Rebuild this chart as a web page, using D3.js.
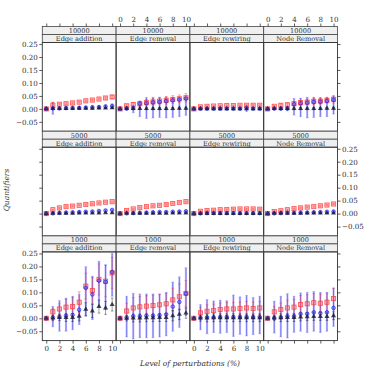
<!DOCTYPE html>
<html lang="en">
<head>
<meta charset="UTF-8">
<script src="https://cdn.jsdelivr.net/npm/d3@7"></script>
<title>Quantifiers vs perturbation</title>
<style>
  body { margin: 0; background: #fff; }
  svg { display: block; }
</style>
</head>
<body>
<svg width="374" height="374"></svg>
<script>
const sizes = ["10000", "5000", "1000"];
const types = ["Edge addition", "Edge removal", "Edge rewiring", "Node Removal"];
const levels = [0, 1, 2, 3, 4, 5, 6, 7, 8, 9, 10];
const xTicks = [0, 2, 4, 6, 8, 10];
const yTicks = [-0.05, 0, 0.05, 0.10, 0.15, 0.20, 0.25];

// one inner array per panel, row by row (10000, 5000, 1000), columns as in types
const redMean = [
  [0, .014, .018, .020, .023, .026, .031, .034, .038, .042, .046],
  [0, .012, .017, .020, .024, .027, .030, .033, .036, .039, .043],
  [0, .008, .010, .011, .012, .013, .013, .014, .014, .014, .014],
  [0, .010, .014, .016, .020, .024, .026, .029, .030, .033, .037],
  [0, .015, .022, .027, .029, .032, .035, .038, .041, .044, .046],
  [0, .012, .018, .023, .027, .030, .032, .035, .039, .043, .046],
  [0, .009, .012, .013, .015, .016, .017, .018, .018, .018, .017],
  [0, .008, .011, .015, .019, .022, .025, .027, .030, .033, .037],
  [0, .025, .036, .043, .045, .062, .124, .107, .150, .143, .175],
  [0, .028, .040, .044, .047, .049, .052, .056, .071, .083, .096],
  [0, .021, .027, .030, .034, .036, .036, .038, .040, .038, .040],
  [0, .025, .034, .040, .043, .053, .056, .060, .058, .062, .076]
];
const redErr = [
  [0, .012, .003, .003, .003, .003, .003, .003, .003, .004, .006],
  [0, .004, .008, .010, .012, .013, .014, .015, .015, .015, .016],
  [0, .002, .002, .002, .002, .002, .002, .002, .002, .002, .002],
  [0, .003, .005, .006, .008, .010, .012, .012, .012, .012, .014],
  [0, .002, .002, .002, .002, .002, .002, .002, .002, .002, .002],
  [0, .002, .002, .002, .002, .002, .002, .002, .002, .002, .002],
  [0, .002, .002, .002, .002, .002, .002, .002, .002, .002, .002],
  [0, .002, .002, .002, .002, .002, .002, .002, .002, .002, .002],
  [0, .012, .020, .030, .036, .040, .050, .050, .060, .060, .060],
  [0, .030, .040, .040, .040, .040, .040, .040, .045, .050, .050],
  [0, .020, .025, .025, .025, .025, .025, .025, .025, .025, .025],
  [0, .020, .025, .030, .030, .035, .035, .035, .035, .035, .040]
];
const blueMean = [
  [0, .002, .002, .003, .004, .004, .005, .006, .007, .009, .011],
  [0, .002, .003, .020, .022, .025, .027, .030, .033, .036, .040],
  [0, .001, .001, .001, .001, .001, .001, .001, .003, .001, .001],
  [0, .001, .001, .002, .018, .022, .024, .027, .028, .031, .035],
  [0, .001, .003, .004, .005, .006, .007, .008, .010, .012, .014],
  [0, .001, .002, .003, .004, .005, .006, .006, .007, .008, .009],
  [0, .001, .002, .002, .002, .002, .002, .002, .002, .002, .002],
  [0, .001, .002, .003, .003, .004, .004, .005, .006, .007, .008],
  [0, .003, .006, .010, .013, .033, .117, .092, .145, .140, .178],
  [0, .003, .008, .008, .010, .010, .012, .015, .045, .063, .095],
  [0, .003, .004, .004, .005, .005, .005, .005, .005, .005, .005],
  [0, .002, .004, .008, .008, .017, .017, .023, .020, .023, .040]
];
const blueLo = [
  [0, -.021, -.002, -.002, -.001, -.001, 0, 0, .001, .002, .003],
  [0, -.006, -.015, -.030, -.037, -.035, -.033, -.035, -.033, -.030, -.025],
  [0, -.003, -.003, -.003, -.003, -.003, -.003, -.003, -.010, -.003, -.003],
  [0, -.003, -.005, -.008, -.024, -.030, -.035, -.033, -.030, -.030, -.020],
  [0, -.002, 0, .001, .002, .003, .004, .005, .007, .009, .010],
  [0, -.002, -.001, 0, .001, .002, .003, .003, .004, .005, .006],
  [0, -.002, -.001, -.001, -.001, -.001, -.001, -.001, -.001, -.001, -.001],
  [0, -.002, -.001, 0, 0, .001, .001, .002, .003, .004, .005],
  [0, -.033, -.050, -.050, -.044, -.024, .008, -.005, .046, .034, .085],
  [0, -.072, -.080, -.075, -.075, -.075, -.072, -.068, -.050, -.035, .010],
  [0, -.044, -.060, -.055, -.058, -.055, -.070, -.062, -.068, -.063, -.060],
  [0, -.057, -.072, -.076, -.054, -.050, -.055, -.050, -.055, -.050, -.031]
];
const blueHi = [
  [0, .025, .006, .007, .008, .009, .010, .012, .013, .016, .020],
  [0, .008, .015, .030, .044, .045, .045, .046, .045, .044, .045],
  [0, .004, .004, .004, .004, .004, .004, .004, .014, .004, .004],
  [0, .004, .007, .010, .040, .042, .045, .045, .044, .044, .050],
  [0, .004, .006, .007, .008, .009, .010, .011, .013, .015, .018],
  [0, .004, .005, .006, .007, .008, .009, .009, .010, .011, .012],
  [0, .004, .005, .005, .005, .005, .005, .005, .005, .005, .005],
  [0, .004, .005, .006, .006, .007, .007, .008, .009, .010, .011],
  [0, .046, .068, .078, .085, .092, .199, .162, .220, .207, .250],
  [0, .085, .096, .094, .094, .094, .094, .100, .140, .160, .195],
  [0, .053, .072, .067, .070, .068, .090, .083, .088, .080, .085],
  [0, .066, .085, .095, .085, .098, .100, .103, .100, .100, .117]
];
const blackMean = [
  [0, .001, .001, .001, .001, .002, .002, .002, .003, .003, .004],
  [0, .001, .001, .001, .001, .001, .001, .001, .001, .002, .002],
  [0, 0, 0, 0, 0, 0, 0, 0, 0, 0, 0],
  [0, .001, .001, .001, .001, .001, .001, .001, .001, .002, .002],
  [0, .001, .001, .001, .001, .002, .002, .002, .002, .003, .003],
  [0, .001, .001, .001, .001, .001, .001, .001, .002, .002, .002],
  [0, 0, 0, 0, 0, 0, 0, 0, 0, 0, 0],
  [0, .001, .001, .001, .001, .001, .002, .002, .002, .002, .002],
  [0, .001, .003, .003, .003, .008, .035, .028, .045, .040, .053],
  [0, 0, .001, .001, .002, .002, .003, .003, .010, .015, .020],
  [0, .001, .001, .002, .002, .002, .002, .002, .002, .002, .002],
  [0, .001, .002, .003, .003, .005, .006, .007, .007, .007, .010]
];
const blackErr = [
  [0, .002, .002, .002, .002, .002, .002, .002, .002, .002, .003],
  [0, .002, .003, .003, .004, .004, .004, .004, .004, .004, .004],
  [0, .002, .002, .002, .002, .002, .002, .002, .002, .002, .002],
  [0, .002, .003, .003, .004, .004, .004, .004, .004, .004, .004],
  [0, .001, .001, .001, .001, .001, .001, .001, .001, .001, .001],
  [0, .001, .001, .001, .001, .001, .001, .001, .001, .001, .001],
  [0, .001, .001, .001, .001, .001, .001, .001, .001, .001, .001],
  [0, .001, .001, .001, .001, .001, .001, .001, .001, .001, .001],
  [0, .010, .012, .015, .015, .018, .025, .025, .025, .025, .025],
  [0, .010, .015, .015, .015, .015, .015, .015, .020, .020, .020],
  [0, .012, .015, .015, .015, .015, .015, .015, .015, .015, .015],
  [0, .010, .015, .015, .015, .015, .015, .015, .015, .015, .015]
];

const font = "'DejaVu Serif', serif";
const left = 42.3, panelW = 73.8, top0 = 26.5, stripH = 8, plotH = 88.7;
const blockH = 2 * stripH + plotH;

const x = d3.scaleLinear().domain([-0.6, 10.6]).range([0, panelW]);
const y = d3.scaleLinear().domain([-0.086, 0.256]).range([plotH, 0]);
const fmt = d3.format(".2f");

const svg = d3.select("svg");

// error bar helper
function bars(g, lo, hi, color, width, cap) {
  levels.forEach((lv, k) => {
    if (hi[k] - lo[k] <= 0) return;
    g.append("line")
      .attr("x1", x(lv)).attr("x2", x(lv))
      .attr("y1", y(lo[k])).attr("y2", y(hi[k]))
      .attr("stroke", color).attr("stroke-width", width);
    if (cap > 0) {
      [lo[k], hi[k]].forEach(v => {
        g.append("line")
          .attr("x1", x(lv) - cap).attr("x2", x(lv) + cap)
          .attr("y1", y(v)).attr("y2", y(v))
          .attr("stroke", color).attr("stroke-width", 0.7);
      });
    }
  });
}

sizes.forEach((size, r) => {
  types.forEach((type, c) => {
    const i = r * 4 + c;
    const g = svg.append("g")
      .attr("transform", `translate(${left + c * panelW},${top0 + r * blockH})`);

    // strips
    [size, type].forEach((s, k) => {
      g.append("rect")
        .attr("y", k * stripH).attr("width", panelW).attr("height", stripH)
        .attr("fill", "#efefef").attr("stroke", "#444").attr("stroke-width", 0.8);
      g.append("text")
        .attr("x", panelW / 2).attr("y", k * stripH + 6.4)
        .attr("text-anchor", "middle")
        .style("font", `6.6px ${font}`)
        .attr("fill", "#333")
        .text(s);
    });

    const p = g.append("g").attr("transform", `translate(0,${2 * stripH})`);
    p.append("rect")
      .attr("width", panelW).attr("height", plotH)
      .attr("fill", "none").attr("stroke", "#333").attr("stroke-width", 0.9);

    const rm = redMean[i], re = redErr[i];
    const bm = blueMean[i];
    const km = blackMean[i], ke = blackErr[i];

    bars(p, blueLo[i], blueHi[i], "rgba(60,60,255,0.3)", 2.2, 1.5);
    bars(p, blueLo[i], blueHi[i], "rgba(30,30,230,0.75)", 0.6, 0);
    bars(p, rm.map((v, k) => v - re[k]), rm.map((v, k) => v + re[k]), "rgba(255,40,40,0.6)", 0.7, 1.3);
    bars(p, km.map((v, k) => v - ke[k]), km.map((v, k) => v + ke[k]), "rgba(20,20,20,0.6)", 0.7, 1.3);

    p.selectAll(".sq").data(levels).join("rect")
      .attr("x", d => x(d) - 2.1).attr("y", (d, k) => y(rm[k]) - 2.1)
      .attr("width", 4.2).attr("height", 4.2)
      .attr("fill", "rgba(255,90,90,0.4)")
      .attr("stroke", "rgba(255,50,50,0.8)").attr("stroke-width", 0.8);

    p.selectAll(".ci").data(levels).join("circle")
      .attr("cx", d => x(d)).attr("cy", (d, k) => y(bm[k]))
      .attr("r", 1.8)
      .attr("fill", "rgba(70,70,255,0.4)")
      .attr("stroke", "rgba(30,30,240,0.85)").attr("stroke-width", 0.8);

    p.selectAll(".tr").data(levels).join("path")
      .attr("d", d3.symbol(d3.symbolTriangle, 11))
      .attr("transform", (d, k) => `translate(${x(d)},${y(km[k])})`)
      .attr("fill", "rgba(25,25,45,0.8)");

    // x axes on outer rows, labels alternating
    if (r === 0) {
      g.append("g")
        .call(d3.axisTop(x).tickValues(xTicks).tickSize(3).tickPadding(1.5).tickSizeOuter(0)
          .tickFormat(c % 2 === 1 ? d => d : () => ""));
    }
    if (r === 2) {
      g.append("g")
        .attr("transform", `translate(0,${2 * stripH + plotH})`)
        .call(d3.axisBottom(x).tickValues(xTicks).tickSize(3).tickPadding(2).tickSizeOuter(0)
          .tickFormat(c % 2 === 0 ? d => d : () => ""));
    }
    // y axes on outer columns, labels alternating
    if (c === 0) {
      g.append("g")
        .attr("transform", `translate(0,${2 * stripH})`)
        .call(d3.axisLeft(y).tickValues(yTicks).tickSize(3).tickPadding(1.5).tickSizeOuter(0)
          .tickFormat(r !== 1 ? fmt : () => ""));
    }
    if (c === 3) {
      g.append("g")
        .attr("transform", `translate(${panelW},${2 * stripH})`)
        .call(d3.axisRight(y).tickValues(yTicks).tickSize(3).tickPadding(1.5).tickSizeOuter(0)
          .tickFormat(r === 1 ? fmt : () => ""));
    }
  });
});

svg.selectAll(".domain").remove();
svg.selectAll(".tick line").attr("stroke", "#333").attr("stroke-width", 0.8);
svg.selectAll(".tick text").style("font", `7.1px ${font}`).attr("fill", "#333");

svg.append("text")
  .attr("transform", "translate(9,190) rotate(-90)")
  .attr("text-anchor", "middle")
  .style("font", `italic 7.5px ${font}`)
  .attr("fill", "#333")
  .text("Quantifiers");

svg.append("text")
  .attr("x", 190).attr("y", 366)
  .attr("text-anchor", "middle")
  .style("font", `italic 7.5px ${font}`)
  .attr("fill", "#333")
  .text("Level of perturbations (%)");
</script>
</body>
</html>
